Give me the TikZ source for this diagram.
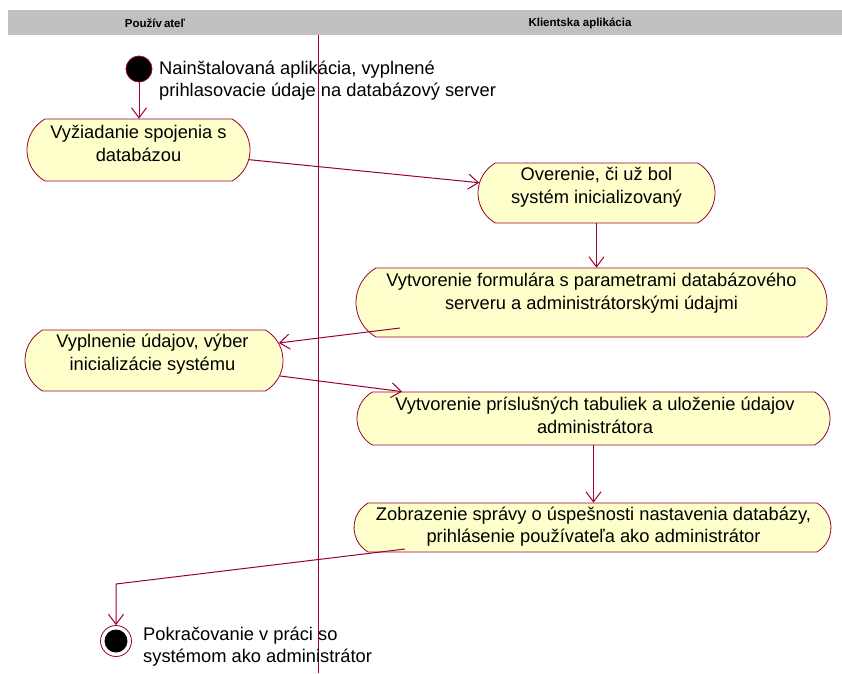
\documentclass[tikz,border=0pt]{standalone}
\usepackage{fontspec}
\setmainfont{Liberation Sans}
\usetikzlibrary{shapes.misc,shapes.geometric,arrows.meta}
\definecolor{umlline}{HTML}{990033}
\definecolor{umlfill}{HTML}{FFFFCC}
\definecolor{lanehead}{HTML}{C0C0C0}
\tikzset{
  act/.style={rounded rectangle, rounded rectangle arc length=120, draw=umlline,
    fill=umlfill, line width=0.8pt, inner sep=0pt},
  acttext/.style={align=center, inner sep=0pt,
    font=\fontsize{18.3}{22.5}\selectfont},
  note/.style={align=left, inner sep=0pt, anchor=west,
    font=\fontsize{18.3}{22.5}\selectfont},
  flow/.style={draw=umlline, line width=1pt,
    -{Straight Barb[length=10pt,width=15pt,line width=1pt]}},
  lanetitle/.style={font=\fontsize{11.5}{13}\selectfont\bfseries, inner sep=0pt},
}
\begin{document}
\begin{tikzpicture}[x=1pt,y=-1pt]
\path[use as bounding box] (0,0) rectangle (842,673);

% swimlane header and divider
\fill[lanehead] (8,10) rectangle (842,35);
\node[lanetitle] (laneA) at (155,23) {Použív\hspace{2pt}ateľ};
\node[lanetitle] (laneB) at (580,23) {Klientska aplikácia};
\draw[umlline, line width=0.8pt] (318,35) -- (318,673);

% initial and final states
\node[circle, draw=umlline, fill=black, line width=0.8pt, minimum size=26pt, inner sep=0pt] (init) at (139,69) {};
\node[note] (initlbl) at (159,80.5) {Nainštalovaná aplikácia, vyplnené\\prihlasovacie údaje na databázový server};

\node[circle, draw=umlline, fill=white, line width=0.8pt, minimum size=31pt, inner sep=0pt] (fin) at (116,641) {};
\node[circle, fill=black, minimum size=23pt, inner sep=0pt] (fincore) at (fin.center) {};
\node[note] (finlbl) at (143,646.5) {Pokračovanie v práci so\\systémom ako administrátor};

% activities
\node[act, minimum width=223pt, minimum height=62pt] (s1) at (138.5,150) {};
\node[acttext] (t1) at (138.5,143.5) {Vyžiadanie spojenia s\\databázou};

\node[act, minimum width=237pt, minimum height=60pt] (s2) at (596.5,193) {};
\node[acttext] (t2) at (596.5,187) {Overenie, či už bol\\systém inicializovaný};

\node[act, minimum width=471pt, minimum height=69pt] (s3) at (591.5,302.5) {};
\node[acttext] (t3) at (591.5,293) {Vytvorenie formulára s parametrami databázového\\serveru a administrátorskými údajmi};

\node[act, minimum width=258pt, minimum height=61pt] (s4) at (154,360.5) {};
\node[acttext] (t4) at (152.5,354) {Vyplnenie údajov, výber\\inicializácie systému};

\node[act, minimum width=473pt, minimum height=53pt] (s5) at (593.5,418.5) {};
\node[acttext] (t5) at (595,415.5) {Vytvorenie príslušných tabuliek a uloženie údajov\\administrátora};

\node[act, minimum width=477pt, minimum height=49pt] (s6) at (592.5,527.5) {};
\node[acttext] (t6) at (593.5,526.5) {Zobrazenie správy o úspešnosti nastavenia databázy,\\prihlásenie používateľa ako administrátor};

% transitions
\coordinate (bend) at (116,584);
\draw[flow] (init) -- (init |- s1.north);
\draw[flow] (s1.-5) -- (s2.175);
\draw[flow] (s2.south) -- (s2.south |- s3.north);
\draw[flow] ([shift={(-191.5,25.5)}]s3.center) -- (s4.8);
\draw[flow] (s4.-7.5) -- (s5.172);
\draw[flow] (s5.south) -- (s5.south |- s6.north);
\draw[flow] ([shift={(-187.5,21.5)}]s6.center) -- (bend) -- (fin.north);
\end{tikzpicture}
\end{document}
